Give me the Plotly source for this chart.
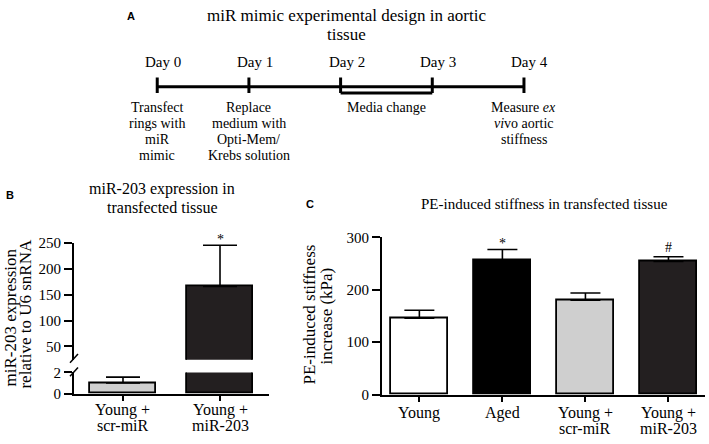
import plotly.graph_objects as go

W, H = 709, 444
SERIF = "Liberation Serif, Times New Roman, serif"
SANS = "Liberation Sans, Arial, sans-serif"

# ---------------- Panel A: timeline ----------------
days = [0, 1, 2, 3, 4]
day_labels = ["Day 0", "Day 1", "Day 2", "Day 3", "Day 4"]
event_days = [0, 1, 2.5, 4]
event_lines = [
    ["Transfect", "rings with", "miR", "mimic"],
    ["Replace", "medium with", "Opti-Mem/", "Krebs solution"],
    ["Media change"],
    ["Measure <i>ex</i>", "<i>vi</i>vo aortic", "stiffness"],
]
media_span = [2, 3]

# ---------------- Panel B ----------------
b_categories = ["Young +\nscr-miR", "Young +\nmiR-203"]
b_means = [1.0, 166]
b_sem = [0.55, 80]
b_colors = ["#cfcfcf", "#231f20"]
b_marks = ["", "*"]
b_upper_ticks = [50, 100, 150, 200, 250]
b_lower_ticks = [0, 2]

# ---------------- Panel C ----------------
c_categories = ["Young", "Aged", "Young +\nscr-miR", "Young +\nmiR-203"]
c_means = [146, 256, 180, 254]
c_sem = [15, 21, 14, 9]
c_colors = ["#ffffff", "#000000", "#cfcfcf", "#231f20"]
c_marks = ["", "*", "", "#"]
c_ticks = [0, 100, 200, 300]


def px(x):
    return x / W


def py(y):
    return 1 - y / H


annotations = []
shapes = []


def ann(text, x, y, size, xref="paper", family=SERIF, angle=0, **kw):
    d = dict(text=text, x=x if xref != "paper" else px(x), y=py(y), xref=xref, yref="paper",
             showarrow=False, xanchor="center", yanchor="middle", textangle=angle,
             font=dict(family=family, size=size, color="black"))
    d.update(kw)
    annotations.append(d)


def mark(text, x, y, xref, yref):
    annotations.append(dict(text=text, x=x, y=y, xref=xref, yref=yref, showarrow=False,
                            xanchor="center", yanchor="bottom",
                            yshift=-4 if text == "*" else 0,
                            font=dict(family=SERIF, size=14, color="black")))


fig = go.Figure()

# ---- Panel A timeline drawn on its own hidden axes
tl_x, tl_y = [days[0], days[-1], None], [0, 0, None]
for d in days:
    tl_x += [d, d, None]
    tl_y += [1.2, -0.8, None]
tl_x += [media_span[0], media_span[1]]
tl_y += [-0.8, -0.8]
fig.add_trace(go.Scatter(x=tl_x, y=tl_y, mode="lines", line=dict(color="black", width=3),
                         xaxis="x3", yaxis="y4", hoverinfo="skip", cliponaxis=False))

for d, lab in zip(days, day_labels):
    ann(lab, d, 56, 15, xref="x3", xshift=6)
for d, lines in zip(event_days, event_lines):
    for i, ln in enumerate(lines):
        ann(ln, d, 103 + 16.7 * i, 14, xref="x3")

ann("<b>A</b>", 131, 8, 11, family=SANS)
ann("miR mimic experimental design in aortic", 346, 8, 17)
ann("tissue", 346, 27, 17)

# ---- Panel B: broken axis, lower (y) and upper (y2)
b_x = [c.replace("\n", " ") for c in b_categories]
for yax in ["y", "y2"]:
    fig.add_trace(go.Bar(
        x=b_x, y=b_means, width=0.68, xaxis="x", yaxis=yax,
        marker=dict(color=b_colors, line=dict(color="black", width=1.8)),
        error_y=dict(type="data", array=b_sem, arrayminus=[0] * len(b_sem), symmetric=False,
                     color="black", thickness=1.6, width=17),
        hoverinfo="skip"))

for cat, lab in zip(b_x, b_categories):
    for i, ln in enumerate(lab.split("\n")):
        ann(ln, cat, 417 + 16.5 * i, 16, xref="x")
for cat, m, s, mk in zip(b_x, b_means, b_sem, b_marks):
    if mk:
        mark(mk, cat, m + s, "x", "y2")

ann("<b>B</b>", 10, 194, 11, family=SANS)
ann("miR-203 expression in", 162, 188, 16)
ann("transfected tissue", 162, 207, 16)
ann("miR-203 expression", 10, 321, 17, angle=-90)
ann("relative to U6 snRNA", 26, 318, 17, angle=-90)

# axis break marks
for (x0, y0, x1, y1) in [(70, 368, 78, 359), (70, 382, 78, 373)]:
    shapes.append(dict(type="line", xref="paper", yref="paper", x0=px(x0), y0=py(y0),
                       x1=px(x1), y1=py(y1), line=dict(color="black", width=1.5)))

# ---- Panel C
c_x = [c.replace("\n", " ") for c in c_categories]
fig.add_trace(go.Bar(
    x=c_x, y=c_means, width=0.69, xaxis="x2", yaxis="y3",
    marker=dict(color=c_colors, line=dict(color="black", width=1.8)),
    error_y=dict(type="data", array=c_sem, arrayminus=[0] * len(c_sem), symmetric=False,
                 color="black", thickness=1.6, width=15),
    hoverinfo="skip"))
for cat, lab in zip(c_x, c_categories):
    for i, ln in enumerate(lab.split("\n")):
        ann(ln, cat, 420 + 16.5 * i, 16, xref="x2")
for cat, m, s, mk in zip(c_x, c_means, c_sem, c_marks):
    if mk:
        mark(mk, cat, m + s, "x2", "y3")

ann("<b>C</b>", 310, 203, 11, family=SANS)
ann("PE-induced stiffness in transfected tissue", 544, 203, 15)
ann("PE-induced stiffness", 310, 318, 17, angle=-90)
ann("increase (kPa)", 326, 320, 17, angle=-90)

xcommon = dict(showline=True, linecolor="black", linewidth=2, ticks="outside", ticklen=5,
               tickwidth=1.5, tickcolor="black", showticklabels=False, showgrid=False,
               zeroline=False, type="category", fixedrange=True)
ycommon = dict(showline=True, linecolor="black", linewidth=2, ticks="outside", ticklen=8,
               tickwidth=1.5, tickcolor="black", showgrid=False, zeroline=False,
               tickfont=dict(family=SERIF, size=15, color="black"), fixedrange=True)

fig.update_layout(
    width=W, height=H, margin=dict(l=0, r=0, t=0, b=0),
    paper_bgcolor="white", plot_bgcolor="white", showlegend=False,
    font=dict(family=SERIF, color="black"),
    bargap=0,
    xaxis=dict(domain=[px(74), px(269)], range=[-0.505, 1.505], anchor="y", **xcommon),
    yaxis=dict(domain=[py(400), py(378)], range=[0, 2], tickvals=b_lower_ticks, anchor="x", **ycommon),
    yaxis2=dict(domain=[py(365), py(244)], range=[24, 250], tickvals=b_upper_ticks, anchor="x", **ycommon),
    xaxis2=dict(domain=[px(382), px(705)], range=[-0.45, 3.44], anchor="y3", **xcommon),
    yaxis3=dict(domain=[py(401), py(238)], range=[0, 300], tickvals=c_ticks, anchor="x2", **ycommon),
    xaxis3=dict(domain=[px(138.9), px(542.3)], range=[-0.2, 4.2], anchor="y4", visible=False,
                fixedrange=True),
    yaxis4=dict(domain=[py(93.85), py(69.55)], range=[-1.5, 1.5], anchor="x3", visible=False,
                fixedrange=True),
    annotations=annotations, shapes=shapes,
)

fig.write_html("out.html", config={"displayModeBar": False},
               post_script="document.body.style.margin='0';document.body.style.overflow='hidden';")
